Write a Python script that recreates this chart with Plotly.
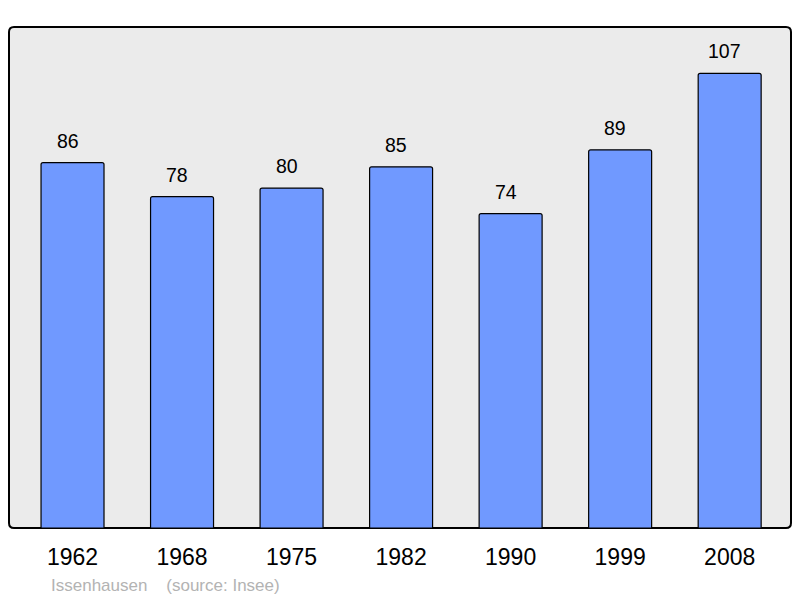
import plotly.graph_objects as go

years = ["1962", "1968", "1975", "1982", "1990", "1999", "2008"]
population = [86, 78, 80, 85, 74, 89, 107]
caption = "Issenhausen    (source: Insee)"

# page body has an 8px margin: shrink the figure so it fits the 800x598 window
OFF = 8
W, H = 800 - OFF, 598 - OFF
ML, MR, MT, MB = 9 - OFF, 9, 27 - OFF, 70
pw, ph = W - ML - MR, H - MT - MB
rx, ry = 5 / pw, 5 / ph
frame_path = (
    f"M {rx},0 L {1-rx},0 Q 1,0 1,{ry} L 1,{1-ry} Q 1,1 {1-rx},1 "
    f"L {rx},1 Q 0,1 0,{1-ry} L 0,{ry} Q 0,0 {rx},0 Z"
)

fig = go.Figure()
fig.add_trace(go.Bar(
    x=years, y=population,
    marker=dict(color="#7099ff", line=dict(color="#000000", width=1.2), cornerradius=2),
    width=0.575,
    hoverinfo="skip",
))

for i, v in enumerate(population):
    fig.add_annotation(x=i, y=v, text=str(v), showarrow=False, yanchor="bottom",
                       yshift=9, xshift=-5,
                       font=dict(family="Liberation Sans, Arial", size=19.5, color="#000000"))

fig.add_annotation(xref="paper", yref="paper", x=(49 - 9) / pw, y=-(585 - 27 - ph) / ph,
                   xanchor="left", yanchor="middle", text=caption, showarrow=False,
                   font=dict(family="Liberation Sans, Arial", size=17, color="#b3b3b3"))

fig.add_shape(type="path", path=frame_path, xref="paper", yref="paper",
              fillcolor="#ebebeb", line=dict(color="#000000", width=2), layer="below")

fig.update_layout(
    width=W, height=H,
    margin=dict(l=ML, r=MR, t=MT, b=MB),
    paper_bgcolor="#ffffff", plot_bgcolor="rgba(0,0,0,0)",
    showlegend=False,
    xaxis=dict(type="category", range=[-0.58, 6.56], showgrid=False, zeroline=False, showline=False,
               ticks="", tickfont=dict(family="Liberation Sans, Arial", size=23, color="#000000"),
               ticklabelstandoff=13),
    yaxis=dict(range=[0, 117.9], showgrid=False, zeroline=False, showline=False,
               showticklabels=False, ticks=""),
)

fig.write_html("out.html")
